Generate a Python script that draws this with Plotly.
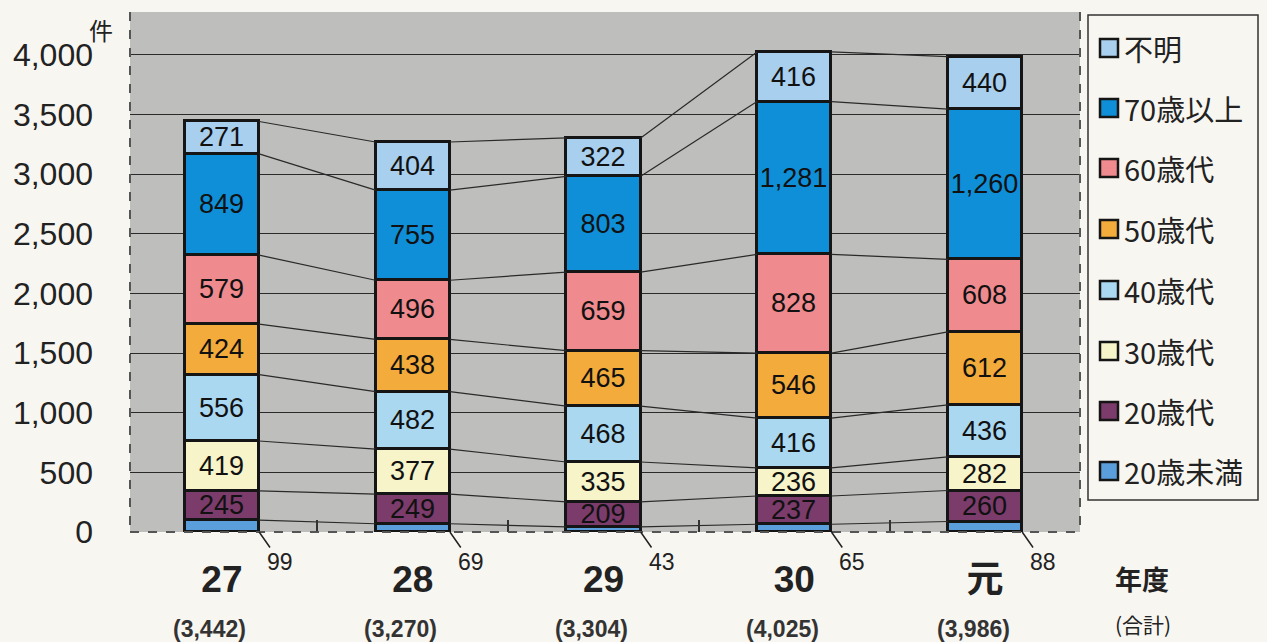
import plotly.graph_objects as go

# ---------------- data ----------------
years = ["27", "28", "29", "30", "元"]
totals = [3442, 3270, 3304, 4025, 3986]
series_names = ["20歳未満", "20歳代", "30歳代", "40歳代", "50歳代", "60歳代", "70歳以上", "不明"]
under20 = [99, 69, 43, 65, 88]
age20s = [245, 249, 209, 237, 260]
age30s = [419, 377, 335, 236, 282]
age40s = [556, 482, 468, 416, 436]
age50s = [424, 438, 465, 546, 612]
age60s = [579, 496, 659, 828, 608]
age70plus = [849, 755, 803, 1281, 1260]
unknown = [271, 404, 322, 416, 440]
y_ticks = [0, 500, 1000, 1500, 2000, 2500, 3000, 3500, 4000]

series_values = [under20, age20s, age30s, age40s, age50s, age60s, age70plus, unknown]
colors = ["#5a9fdc", "#7b3b6b", "#f7f4c9", "#aad8f1", "#f3ab3b", "#ef8a8e", "#0e8fd7", "#a9cfee"]

# ---------------- layout geometry ----------------
W, H = 1267, 642
L, R, T, B = 130, 1080, 12, 532
BAR_W = 0.39
PAPER = "#f8f6f1"
PLOT_BG = "#bebebc"


def px(x):
    return (x - L) / (R - L)


def py(y):
    return (B - y) / (B - T)


x_idx = list(range(len(years)))
fig = go.Figure()

# stacked bars
for k, (name, vals, col) in enumerate(zip(series_names, series_values, colors)):
    show_text = k != 0
    fig.add_trace(go.Bar(
        x=x_idx, y=vals, name=name, width=BAR_W,
        marker=dict(color=col, line=dict(color="#151515", width=3)),
        text=[f"{v:,}" for v in vals] if show_text else None,
        textposition="inside" if show_text else "none",
        insidetextanchor="middle", textangle=0,
        textfont=dict(family="Liberation Sans, Arial", size=27, color="#111111"),
        showlegend=False, hoverinfo="skip",
    ))

# series connecting lines (top of each segment)
cum = [0] * len(years)
for k, vals in enumerate(series_values):
    cum = [c + v for c, v in zip(cum, vals)]
    xs, ys = [], []
    for i in range(len(years) - 1):
        xs += [i + BAR_W / 2, i + 1 - BAR_W / 2, None]
        ys += [cum[i], cum[i + 1], None]
    fig.add_trace(go.Scatter(x=xs, y=ys, mode="lines",
                             line=dict(color="#2a2a2a", width=1.2),
                             showlegend=False, hoverinfo="skip"))

annotations = []
shapes = []

# small labels for the bottom segment with leader lines
for i, v in enumerate(under20):
    annotations.append(dict(
        x=i + BAR_W / 2, y=0, xref="x", yref="y", text=str(v),
        showarrow=True, arrowhead=0, arrowwidth=1.5, arrowcolor="#222",
        ax=21, ay=30, xanchor="center", yanchor="middle",
        font=dict(family="Liberation Sans, Arial", size=23, color="#222"),
    ))

# totals
for i, t in enumerate(totals):
    annotations.append(dict(
        x=i, y=py(629), xref="x", yref="paper", text=f"<b>({t:,})</b>",
        showarrow=False, xshift=-12, xanchor="center", yanchor="middle",
        font=dict(family="Liberation Sans, Arial", size=23, color="#333"),
    ))

# axis titles / unit labels
annotations += [
    dict(x=px(87), y=py(30), xref="paper", yref="paper", text="件", showarrow=False,
         xanchor="left", yanchor="middle",
         font=dict(family="Noto Sans CJK JP", size=24, color="#222")),
    dict(x=px(1113), y=py(578), xref="paper", yref="paper", text="<b>年度</b>", showarrow=False,
         xanchor="left", yanchor="middle",
         font=dict(family="Noto Sans CJK JP", size=27, color="#222")),
    dict(x=px(1113), y=py(624), xref="paper", yref="paper", text="(合計)", showarrow=False,
         xanchor="left", yanchor="middle",
         font=dict(family="Noto Sans CJK JP", size=21, color="#222")),
]

# plot border (dashed)
for (x0, y0, x1, y1) in [(L, T, L, B), (R, T, R, B), (L, B, R, B)]:
    shapes.append(dict(type="line", xref="paper", yref="paper",
                       x0=px(x0), y0=py(y0), x1=px(x1), y1=py(y1),
                       line=dict(color="#555", width=2, dash="dash")))

# custom legend
shapes.append(dict(type="rect", xref="paper", yref="paper",
                   x0=px(1088), x1=px(1258), y0=py(500), y1=py(15),
                   line=dict(color="#333", width=1.5), fillcolor=PAPER))
legend_y = [48, 108, 168, 229, 290, 351, 411, 471]
for yy, name, col in zip(legend_y, series_names[::-1], colors[::-1]):
    shapes.append(dict(type="rect", xref="paper", yref="paper",
                       x0=px(1100), x1=px(1118), y0=py(yy + 9), y1=py(yy - 9),
                       line=dict(color="#151515", width=2.5), fillcolor=col))
    annotations.append(dict(x=px(1122), y=py(yy), xref="paper", yref="paper", text=name,
                            xanchor="left", yanchor="middle", showarrow=False,
                            font=dict(family="Noto Sans CJK JP", size=29, color="#222")))

fig.update_layout(
    width=W, height=H, autosize=False,
    margin=dict(l=L, r=W - R, t=T, b=H - B, pad=0),
    paper_bgcolor=PAPER, plot_bgcolor=PLOT_BG,
    barmode="stack", bargap=0,
    showlegend=False,
    uniformtext=dict(mode="show", minsize=27),
    annotations=annotations, shapes=shapes,
    xaxis=dict(range=[-0.482, 4.498], tickvals=x_idx, ticktext=[f"<b>{y}</b>" for y in years],
               tickfont=dict(family="Liberation Sans, Noto Sans CJK JP", size=37, color="#222"),
               showgrid=False, zeroline=False, showline=False, ticks="",
               ticklabelstandoff=22,
               minor=dict(tickvals=[0.5, 1.5, 2.5, 3.5], ticks="inside", ticklen=12,
                          tickcolor="#333", tickwidth=1.5)),
    yaxis=dict(range=[0, 4360], tickvals=y_ticks, tickformat=",",
               tickfont=dict(family="Liberation Sans, Arial", size=32, color="#222"),
               showgrid=True, gridcolor="#2a2a2a", gridwidth=1,
               zeroline=False, showline=False, ticks="",
               ticklabelstandoff=36),
)

fig.write_html("out.html")
